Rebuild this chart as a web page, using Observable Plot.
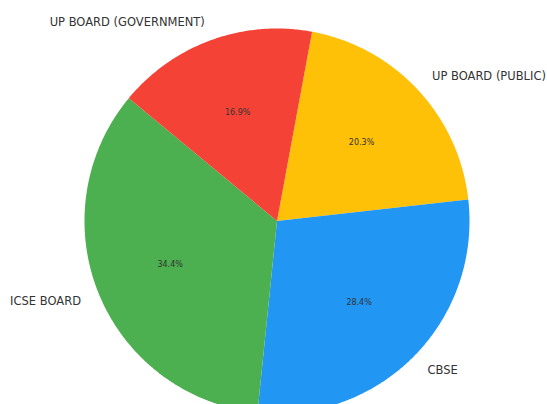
<!DOCTYPE html>
<html>
<head>
<meta charset="utf-8">
<script src="https://cdn.jsdelivr.net/npm/d3@7"></script>
<script src="https://cdn.jsdelivr.net/npm/@observablehq/plot@0.6"></script>
<style>
  html, body { margin: 0; padding: 0; background: #fff; }
</style>
</head>
<body>
<div id="chart"></div>
<script>
// Data (clockwise order from the top)
const categories = ["UP BOARD (PUBLIC)", "CBSE", "ICSE BOARD", "UP BOARD (GOVERNMENT)"];
const values = [20.3, 28.4, 34.4, 16.9];
const colors = ["#FFC107", "#2196F3", "#4CAF50", "#F44336"];

const start = 10.5 * Math.PI / 180;
const pie = d3.pie().sort(null).value(d => d).startAngle(start).endAngle(start + 2 * Math.PI);
const arcs = pie(values);
const total = d3.sum(values);

// wedge outlines (center + arc) in unit-circle coordinates
const wedges = [];
arcs.forEach((a, i) => {
  const cat = categories[i];
  wedges.push({cat, x: 0, y: 0});
  const n = Math.max(2, Math.ceil((a.endAngle - a.startAngle) / (Math.PI / 360)));
  for (let k = 0; k <= n; k++) {
    const t = a.startAngle + (a.endAngle - a.startAngle) * k / n;
    wedges.push({cat, x: Math.sin(t), y: Math.cos(t)});
  }
  wedges.push({cat, x: 0, y: 0});
});

const labels = arcs.map((a, i) => {
  const m = (a.startAngle + a.endAngle) / 2;
  return {
    cat: categories[i],
    x: 1.1 * Math.sin(m), y: 1.1 * Math.cos(m),
    px: 0.6 * Math.sin(m), py: 0.6 * Math.cos(m),
    pct: (100 * values[i] / total).toFixed(1) + "%"
  };
});

const R = 192.5, cx = 276.5, cy = 220.5, W = 547, H = 404;

const chart = Plot.plot({
  width: W,
  height: H,
  margin: 0,
  x: {domain: [-cx / R, (W - cx) / R], axis: null},
  y: {domain: [-(H - cy) / R, cy / R], axis: null},
  color: {domain: categories, range: colors},
  style: {fontFamily: "DejaVu Sans, sans-serif", background: "#fff"},
  marks: [
    Plot.line(wedges, {x: "x", y: "y", z: "cat", fill: "cat", stroke: "none", curve: "linear"}),
    Plot.text(labels.filter(d => d.x < 0), {x: "x", y: "y", text: "cat", textAnchor: "end", fontSize: 11.5, fill: "#333"}),
    Plot.text(labels.filter(d => d.x >= 0), {x: "x", y: "y", text: "cat", textAnchor: "start", fontSize: 11.5, fill: "#333"}),
    Plot.text(labels, {x: "px", y: "py", text: "pct", textAnchor: "middle", fontSize: 8, fill: "#333"})
  ]
});
document.getElementById("chart").appendChild(chart);
</script>
</body>
</html>
